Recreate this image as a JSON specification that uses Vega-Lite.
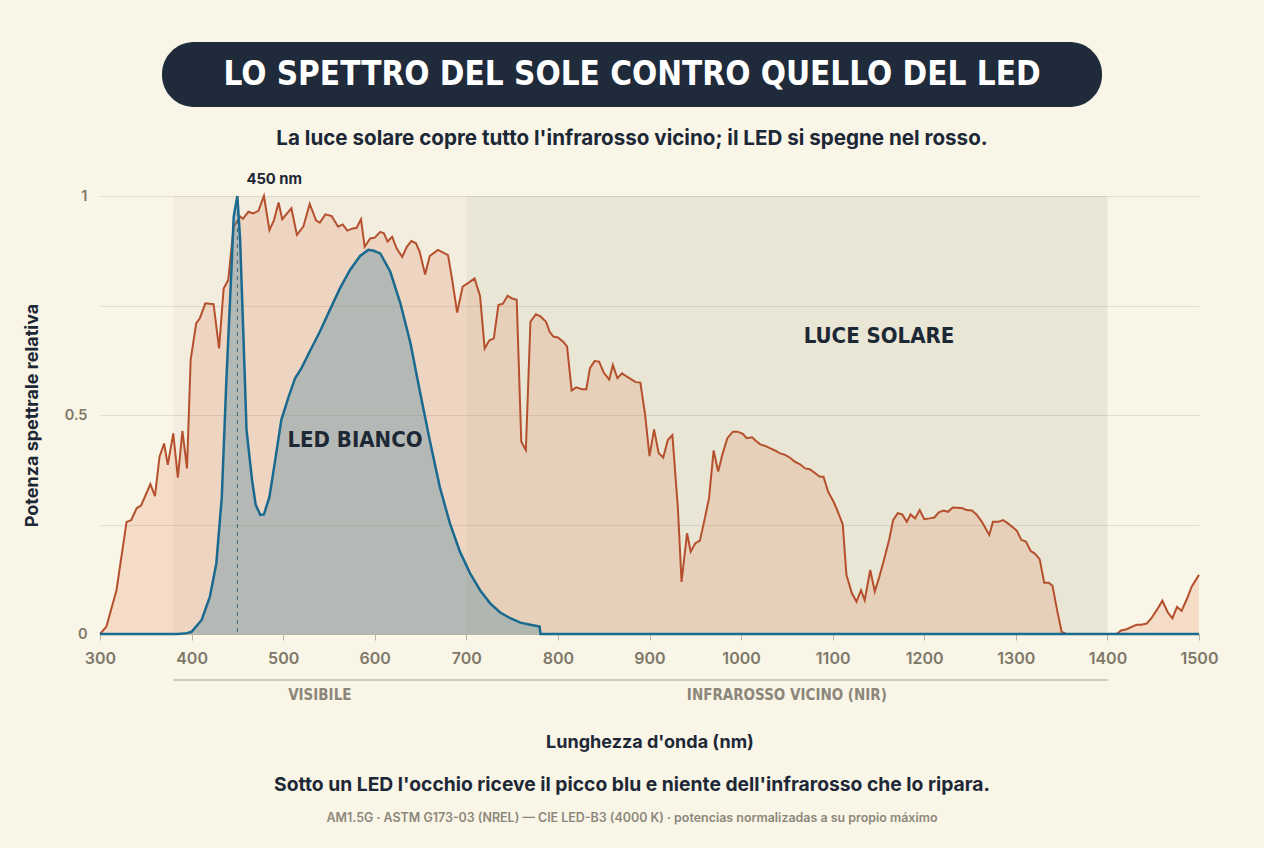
{
  "$schema": "https://vega.github.io/schema/vega-lite/v6.json",
  "width": 1099,
  "height": 438,
  "autosize": {"type": "none"},
  "padding": {"left": 100, "top": 196, "right": 65, "bottom": 214},
  "background": "#f9f5e7",
  "config": {
    "view": {"stroke": null},
    "font": "Inter",
    "axis": {"labelFont": "Inter", "titleFont": "Inter"}
  },
  "datasets": {
    "sun": [
      {"nm": 300, "p": 0}, {"nm": 307, "p": 0.017}, {"nm": 318, "p": 0.1}, {"nm": 329, "p": 0.256},
      {"nm": 334, "p": 0.26}, {"nm": 340, "p": 0.287}, {"nm": 345, "p": 0.294}, {"nm": 355, "p": 0.342},
      {"nm": 360, "p": 0.315}, {"nm": 365, "p": 0.405}, {"nm": 370, "p": 0.435}, {"nm": 374, "p": 0.386},
      {"nm": 380, "p": 0.458}, {"nm": 385, "p": 0.357}, {"nm": 390, "p": 0.464}, {"nm": 395, "p": 0.378},
      {"nm": 399, "p": 0.626}, {"nm": 405, "p": 0.709}, {"nm": 409, "p": 0.721}, {"nm": 415, "p": 0.755},
      {"nm": 424, "p": 0.753}, {"nm": 430, "p": 0.652}, {"nm": 435, "p": 0.789}, {"nm": 440, "p": 0.808},
      {"nm": 446, "p": 0.93}, {"nm": 453, "p": 0.953}, {"nm": 456, "p": 0.948}, {"nm": 462, "p": 0.964},
      {"nm": 467, "p": 0.96}, {"nm": 473, "p": 0.966}, {"nm": 479, "p": 1.0}, {"nm": 485, "p": 0.922},
      {"nm": 490, "p": 0.945}, {"nm": 495, "p": 0.985}, {"nm": 499, "p": 0.947}, {"nm": 504, "p": 0.96},
      {"nm": 509, "p": 0.972}, {"nm": 515, "p": 0.911}, {"nm": 522, "p": 0.93}, {"nm": 529, "p": 0.982},
      {"nm": 536, "p": 0.944}, {"nm": 540, "p": 0.939}, {"nm": 546, "p": 0.958}, {"nm": 553, "p": 0.954},
      {"nm": 560, "p": 0.93}, {"nm": 565, "p": 0.935}, {"nm": 570, "p": 0.921}, {"nm": 576, "p": 0.926},
      {"nm": 580, "p": 0.927}, {"nm": 585, "p": 0.947}, {"nm": 589, "p": 0.884}, {"nm": 595, "p": 0.903},
      {"nm": 600, "p": 0.905}, {"nm": 606, "p": 0.918}, {"nm": 610, "p": 0.915}, {"nm": 614, "p": 0.896},
      {"nm": 619, "p": 0.907}, {"nm": 624, "p": 0.88}, {"nm": 630, "p": 0.861}, {"nm": 635, "p": 0.884},
      {"nm": 640, "p": 0.897}, {"nm": 645, "p": 0.892}, {"nm": 649, "p": 0.873}, {"nm": 655, "p": 0.821},
      {"nm": 660, "p": 0.863}, {"nm": 669, "p": 0.877}, {"nm": 680, "p": 0.865}, {"nm": 684, "p": 0.816},
      {"nm": 690, "p": 0.734}, {"nm": 696, "p": 0.793}, {"nm": 701, "p": 0.8}, {"nm": 709, "p": 0.812},
      {"nm": 715, "p": 0.772}, {"nm": 720, "p": 0.652}, {"nm": 725, "p": 0.67}, {"nm": 730, "p": 0.675},
      {"nm": 735, "p": 0.751}, {"nm": 740, "p": 0.754}, {"nm": 745, "p": 0.772}, {"nm": 750, "p": 0.766},
      {"nm": 755, "p": 0.763}, {"nm": 760, "p": 0.439}, {"nm": 765, "p": 0.42}, {"nm": 770, "p": 0.713},
      {"nm": 776, "p": 0.73}, {"nm": 781, "p": 0.725}, {"nm": 787, "p": 0.713}, {"nm": 791, "p": 0.69},
      {"nm": 795, "p": 0.679}, {"nm": 800, "p": 0.677}, {"nm": 806, "p": 0.667}, {"nm": 810, "p": 0.656},
      {"nm": 815, "p": 0.556}, {"nm": 820, "p": 0.563}, {"nm": 826, "p": 0.559}, {"nm": 831, "p": 0.559},
      {"nm": 835, "p": 0.607}, {"nm": 840, "p": 0.623}, {"nm": 845, "p": 0.622}, {"nm": 850, "p": 0.597},
      {"nm": 856, "p": 0.581}, {"nm": 860, "p": 0.614}, {"nm": 865, "p": 0.584}, {"nm": 870, "p": 0.595},
      {"nm": 875, "p": 0.588}, {"nm": 881, "p": 0.58}, {"nm": 885, "p": 0.575}, {"nm": 890, "p": 0.574},
      {"nm": 895, "p": 0.504}, {"nm": 900, "p": 0.406}, {"nm": 905, "p": 0.467}, {"nm": 910, "p": 0.413},
      {"nm": 915, "p": 0.403}, {"nm": 920, "p": 0.443}, {"nm": 925, "p": 0.454}, {"nm": 931, "p": 0.287},
      {"nm": 935, "p": 0.119}, {"nm": 941, "p": 0.23}, {"nm": 945, "p": 0.188}, {"nm": 950, "p": 0.207},
      {"nm": 955, "p": 0.213}, {"nm": 960, "p": 0.26}, {"nm": 965, "p": 0.31}, {"nm": 970, "p": 0.419},
      {"nm": 975, "p": 0.371}, {"nm": 980, "p": 0.413}, {"nm": 985, "p": 0.447}, {"nm": 991, "p": 0.462},
      {"nm": 996, "p": 0.462}, {"nm": 1002, "p": 0.457}, {"nm": 1006, "p": 0.447}, {"nm": 1012, "p": 0.449},
      {"nm": 1016, "p": 0.441}, {"nm": 1021, "p": 0.433}, {"nm": 1027, "p": 0.429}, {"nm": 1032, "p": 0.424},
      {"nm": 1037, "p": 0.419}, {"nm": 1042, "p": 0.413}, {"nm": 1048, "p": 0.409}, {"nm": 1053, "p": 0.403},
      {"nm": 1059, "p": 0.393}, {"nm": 1064, "p": 0.388}, {"nm": 1070, "p": 0.378}, {"nm": 1075, "p": 0.376},
      {"nm": 1081, "p": 0.367}, {"nm": 1086, "p": 0.359}, {"nm": 1090, "p": 0.359}, {"nm": 1095, "p": 0.325},
      {"nm": 1101, "p": 0.302}, {"nm": 1105, "p": 0.283}, {"nm": 1111, "p": 0.25}, {"nm": 1115, "p": 0.135},
      {"nm": 1121, "p": 0.093}, {"nm": 1126, "p": 0.074}, {"nm": 1131, "p": 0.1}, {"nm": 1135, "p": 0.077},
      {"nm": 1141, "p": 0.146}, {"nm": 1146, "p": 0.097}, {"nm": 1151, "p": 0.131}, {"nm": 1156, "p": 0.169},
      {"nm": 1162, "p": 0.218}, {"nm": 1166, "p": 0.26}, {"nm": 1171, "p": 0.276}, {"nm": 1176, "p": 0.273},
      {"nm": 1181, "p": 0.256}, {"nm": 1185, "p": 0.273}, {"nm": 1190, "p": 0.264}, {"nm": 1195, "p": 0.283},
      {"nm": 1200, "p": 0.262}, {"nm": 1206, "p": 0.264}, {"nm": 1211, "p": 0.266}, {"nm": 1216, "p": 0.278},
      {"nm": 1221, "p": 0.282}, {"nm": 1226, "p": 0.279}, {"nm": 1231, "p": 0.289}, {"nm": 1236, "p": 0.288},
      {"nm": 1242, "p": 0.287}, {"nm": 1246, "p": 0.283}, {"nm": 1252, "p": 0.282}, {"nm": 1257, "p": 0.273},
      {"nm": 1263, "p": 0.256}, {"nm": 1267, "p": 0.241}, {"nm": 1271, "p": 0.226}, {"nm": 1275, "p": 0.256},
      {"nm": 1281, "p": 0.256}, {"nm": 1286, "p": 0.26}, {"nm": 1291, "p": 0.253}, {"nm": 1296, "p": 0.245},
      {"nm": 1301, "p": 0.236}, {"nm": 1306, "p": 0.215}, {"nm": 1311, "p": 0.211}, {"nm": 1316, "p": 0.19},
      {"nm": 1321, "p": 0.183}, {"nm": 1326, "p": 0.171}, {"nm": 1331, "p": 0.117}, {"nm": 1336, "p": 0.117},
      {"nm": 1340, "p": 0.11}, {"nm": 1345, "p": 0.055}, {"nm": 1350, "p": 0.005}, {"nm": 1355, "p": 0},
      {"nm": 1405, "p": 0}, {"nm": 1410, "p": 0}, {"nm": 1415, "p": 0.008}, {"nm": 1421, "p": 0.011},
      {"nm": 1427, "p": 0.017}, {"nm": 1432, "p": 0.021}, {"nm": 1437, "p": 0.021}, {"nm": 1443, "p": 0.024},
      {"nm": 1448, "p": 0.036}, {"nm": 1454, "p": 0.055}, {"nm": 1460, "p": 0.076}, {"nm": 1466, "p": 0.049},
      {"nm": 1471, "p": 0.036}, {"nm": 1476, "p": 0.062}, {"nm": 1481, "p": 0.053}, {"nm": 1487, "p": 0.081},
      {"nm": 1492, "p": 0.108}, {"nm": 1500, "p": 0.135}
    ],
    "led": [
      {"nm": 300, "p": 0}, {"nm": 385, "p": 0}, {"nm": 395, "p": 0.002}, {"nm": 400, "p": 0.005},
      {"nm": 411, "p": 0.032}, {"nm": 420, "p": 0.085}, {"nm": 427, "p": 0.161}, {"nm": 433, "p": 0.313},
      {"nm": 438, "p": 0.58}, {"nm": 443, "p": 0.808}, {"nm": 446, "p": 0.953}, {"nm": 450, "p": 1.0},
      {"nm": 453, "p": 0.9}, {"nm": 457, "p": 0.656}, {"nm": 460, "p": 0.466}, {"nm": 466, "p": 0.352},
      {"nm": 470, "p": 0.295}, {"nm": 475, "p": 0.272}, {"nm": 479, "p": 0.273}, {"nm": 485, "p": 0.313},
      {"nm": 491, "p": 0.393}, {"nm": 498, "p": 0.489}, {"nm": 506, "p": 0.542}, {"nm": 513, "p": 0.584},
      {"nm": 520, "p": 0.607}, {"nm": 529, "p": 0.645}, {"nm": 540, "p": 0.69}, {"nm": 551, "p": 0.74},
      {"nm": 562, "p": 0.789}, {"nm": 573, "p": 0.831}, {"nm": 584, "p": 0.863}, {"nm": 593, "p": 0.877},
      {"nm": 599, "p": 0.875}, {"nm": 606, "p": 0.869}, {"nm": 617, "p": 0.827}, {"nm": 628, "p": 0.755},
      {"nm": 639, "p": 0.664}, {"nm": 649, "p": 0.557}, {"nm": 660, "p": 0.443}, {"nm": 671, "p": 0.336},
      {"nm": 682, "p": 0.253}, {"nm": 693, "p": 0.188}, {"nm": 704, "p": 0.139}, {"nm": 715, "p": 0.1},
      {"nm": 726, "p": 0.07}, {"nm": 737, "p": 0.049}, {"nm": 748, "p": 0.036}, {"nm": 759, "p": 0.026},
      {"nm": 770, "p": 0.021}, {"nm": 780, "p": 0.017}, {"nm": 781, "p": 0}, {"nm": 1500, "p": 0}
    ],
    "bands": [
      {"band": "VISIBILE", "start": 380, "end": 700, "mid": 540},
      {"band": "INFRAROSSO VICINO (NIR)", "start": 700, "end": 1400, "mid": 1050}
    ],
    "peak": [{"nm": 450, "p": 1, "label": "450 nm"}]
  },
  "layer": [
    {
      "data": {"name": "bands"},
      "mark": {"type": "rect"},
      "encoding": {
        "x": {
          "field": "start", "type": "quantitative",
          "scale": {"domain": [300, 1500], "nice": false, "zero": false},
          "axis": {
            "values": [300, 400, 500, 600, 700, 800, 900, 1000, 1100, 1200, 1300, 1400, 1500],
            "format": "d",
            "labelFlush": false,
            "grid": false,
            "domain": true, "domainColor": "#b8b3a3",
            "tickColor": "#b8b3a3", "tickSize": 6,
            "labelFontSize": 16, "labelFontWeight": 600, "labelColor": "#7d7868", "labelPadding": 10,
            "title": "Lunghezza d'onda (nm)",
            "titleFontSize": 18, "titleFontWeight": "bold", "titleColor": "#1d2836", "titlePadding": 67
          }
        },
        "x2": {"field": "end"},
        "color": {
          "field": "band", "type": "nominal", "legend": null,
          "scale": {"domain": ["VISIBILE", "INFRAROSSO VICINO (NIR)"], "range": ["#6e6a4c", "#6e6a4c"]}
        },
        "opacity": {
          "field": "band", "type": "nominal", "legend": null,
          "scale": {"domain": ["VISIBILE", "INFRAROSSO VICINO (NIR)"], "range": [0.05, 0.11]}
        }
      }
    },
    {
      "data": {"name": "sun"},
      "mark": {"type": "area", "color": "#e07a4a", "opacity": 0.2},
      "encoding": {
        "x": {"field": "nm", "type": "quantitative"},
        "y": {
          "field": "p", "type": "quantitative", "stack": null,
          "scale": {"domain": [0, 1], "nice": false},
          "axis": {
            "values": [0, 0.25, 0.5, 0.75, 1],
            "format": "~g",
            "labelExpr": "datum.value == 0.25 || datum.value == 0.75 ? '' : datum.label",
            "grid": true, "gridColor": "#e2ddcd", "gridWidth": 1,
            "domain": false, "ticks": false,
            "labelFontSize": 14.5, "labelFontWeight": 600, "labelColor": "#7d7868", "labelPadding": 13,
            "title": "Potenza spettrale relativa",
            "titleFontSize": 18, "titleFontWeight": "bold", "titleColor": "#1d2836", "titlePadding": 23
          }
        }
      }
    },
    {
      "data": {"name": "sun"},
      "mark": {"type": "line", "color": "#b5502d", "strokeWidth": 2},
      "encoding": {
        "x": {"field": "nm", "type": "quantitative"},
        "y": {"field": "p", "type": "quantitative"}
      }
    },
    {
      "data": {"name": "led"},
      "mark": {"type": "area", "color": "#5f8fa3", "opacity": 0.4},
      "encoding": {
        "x": {"field": "nm", "type": "quantitative"},
        "y": {"field": "p", "type": "quantitative", "stack": null}
      }
    },
    {
      "data": {"name": "led"},
      "mark": {"type": "line", "color": "#1a6a90", "strokeWidth": 2.5},
      "encoding": {
        "x": {"field": "nm", "type": "quantitative"},
        "y": {"field": "p", "type": "quantitative"}
      }
    },
    {
      "data": {"name": "peak"},
      "mark": {"type": "rule", "color": "#3a6a80", "strokeWidth": 1, "strokeDash": [4, 4]},
      "encoding": {
        "x": {"field": "nm", "type": "quantitative"},
        "y": {"field": "p", "type": "quantitative"},
        "y2": {"datum": 0}
      }
    },
    {
      "data": {"name": "peak"},
      "mark": {"type": "text", "align": "left", "baseline": "alphabetic", "dx": 9, "dy": -12, "fontSize": 14.8, "fontWeight": "bold", "color": "#1d2836"},
      "encoding": {
        "x": {"field": "nm", "type": "quantitative"},
        "y": {"field": "p", "type": "quantitative"},
        "text": {"field": "label"}
      }
    },
    {
      "data": {"name": "bands"},
      "mark": {"type": "rule", "color": "#cfcab9", "strokeWidth": 2},
      "encoding": {
        "x": {"field": "start", "type": "quantitative"},
        "x2": {"field": "end"},
        "y": {"datum": -0.105}
      }
    },
    {
      "data": {"name": "bands"},
      "mark": {"type": "text", "align": "center", "baseline": "middle", "font": "DejaVu Sans Condensed", "fontSize": 15, "fontWeight": "bold", "letterSpacing": 1, "color": "#8c877a"},
      "encoding": {
        "x": {"field": "mid", "type": "quantitative"},
        "y": {"datum": -0.1393},
        "text": {"field": "band"}
      }
    },
    {
      "data": {"values": [{}]},
      "mark": {"type": "text", "align": "center", "baseline": "middle", "font": "DejaVu Sans Condensed", "fontSize": 22, "letterSpacing": -0.8, "fontWeight": "bold", "color": "#1d2836"},
      "encoding": {
        "x": {"datum": 578.4},
        "y": {"datum": 0.443},
        "text": {"value": "LED BIANCO"}
      }
    },
    {
      "data": {"values": [{}]},
      "mark": {"type": "text", "align": "center", "baseline": "middle", "font": "DejaVu Sans Condensed", "fontSize": 22, "letterSpacing": -0.7, "fontWeight": "bold", "color": "#1d2836"},
      "encoding": {
        "x": {"datum": 1150.6},
        "y": {"datum": 0.68},
        "text": {"value": "LUCE SOLARE"}
      }
    },
    {
      "data": {"values": [{}]},
      "mark": {"type": "rect", "color": "#1f2a3a", "cornerRadius": 32},
      "encoding": {
        "x": {"datum": 367.7},
        "x2": {"datum": 1394.1},
        "y": {"datum": 1.3516},
        "y2": {"datum": 1.2032}
      }
    },
    {
      "data": {"values": [{}]},
      "mark": {"type": "text", "align": "center", "baseline": "middle", "font": "DejaVu Sans Condensed", "fontSize": 33, "letterSpacing": -0.9, "fontWeight": "bold", "color": "#ffffff"},
      "encoding": {
        "x": {"datum": 880.9},
        "y": {"datum": 1.2763},
        "text": {"value": "LO SPETTRO DEL SOLE CONTRO QUELLO DEL LED"}
      }
    },
    {
      "data": {"values": [{}]},
      "mark": {"type": "text", "align": "center", "baseline": "middle", "fontSize": 20.6, "fontWeight": "bold", "color": "#1d2836"},
      "encoding": {
        "x": {"datum": 880.9},
        "y": {"datum": 1.1301},
        "text": {"value": "La luce solare copre tutto l'infrarosso vicino; il LED si spegne nel rosso."}
      }
    },
    {
      "data": {"values": [{}]},
      "mark": {"type": "text", "align": "center", "baseline": "middle", "fontSize": 19.3, "fontWeight": "bold", "color": "#1d2836"},
      "encoding": {
        "x": {"datum": 880.9},
        "y": {"datum": -0.3447},
        "text": {"value": "Sotto un LED l'occhio riceve il picco blu e niente dell'infrarosso che lo ripara."}
      }
    },
    {
      "data": {"values": [{}]},
      "mark": {"type": "text", "align": "center", "baseline": "middle", "fontSize": 12.45, "fontWeight": 600, "color": "#8c877a"},
      "encoding": {
        "x": {"datum": 880.9},
        "y": {"datum": -0.4201},
        "text": {"value": "AM1.5G · ASTM G173-03 (NREL) — CIE LED-B3 (4000 K) · potencias normalizadas a su propio máximo"}
      }
    }
  ]
}
